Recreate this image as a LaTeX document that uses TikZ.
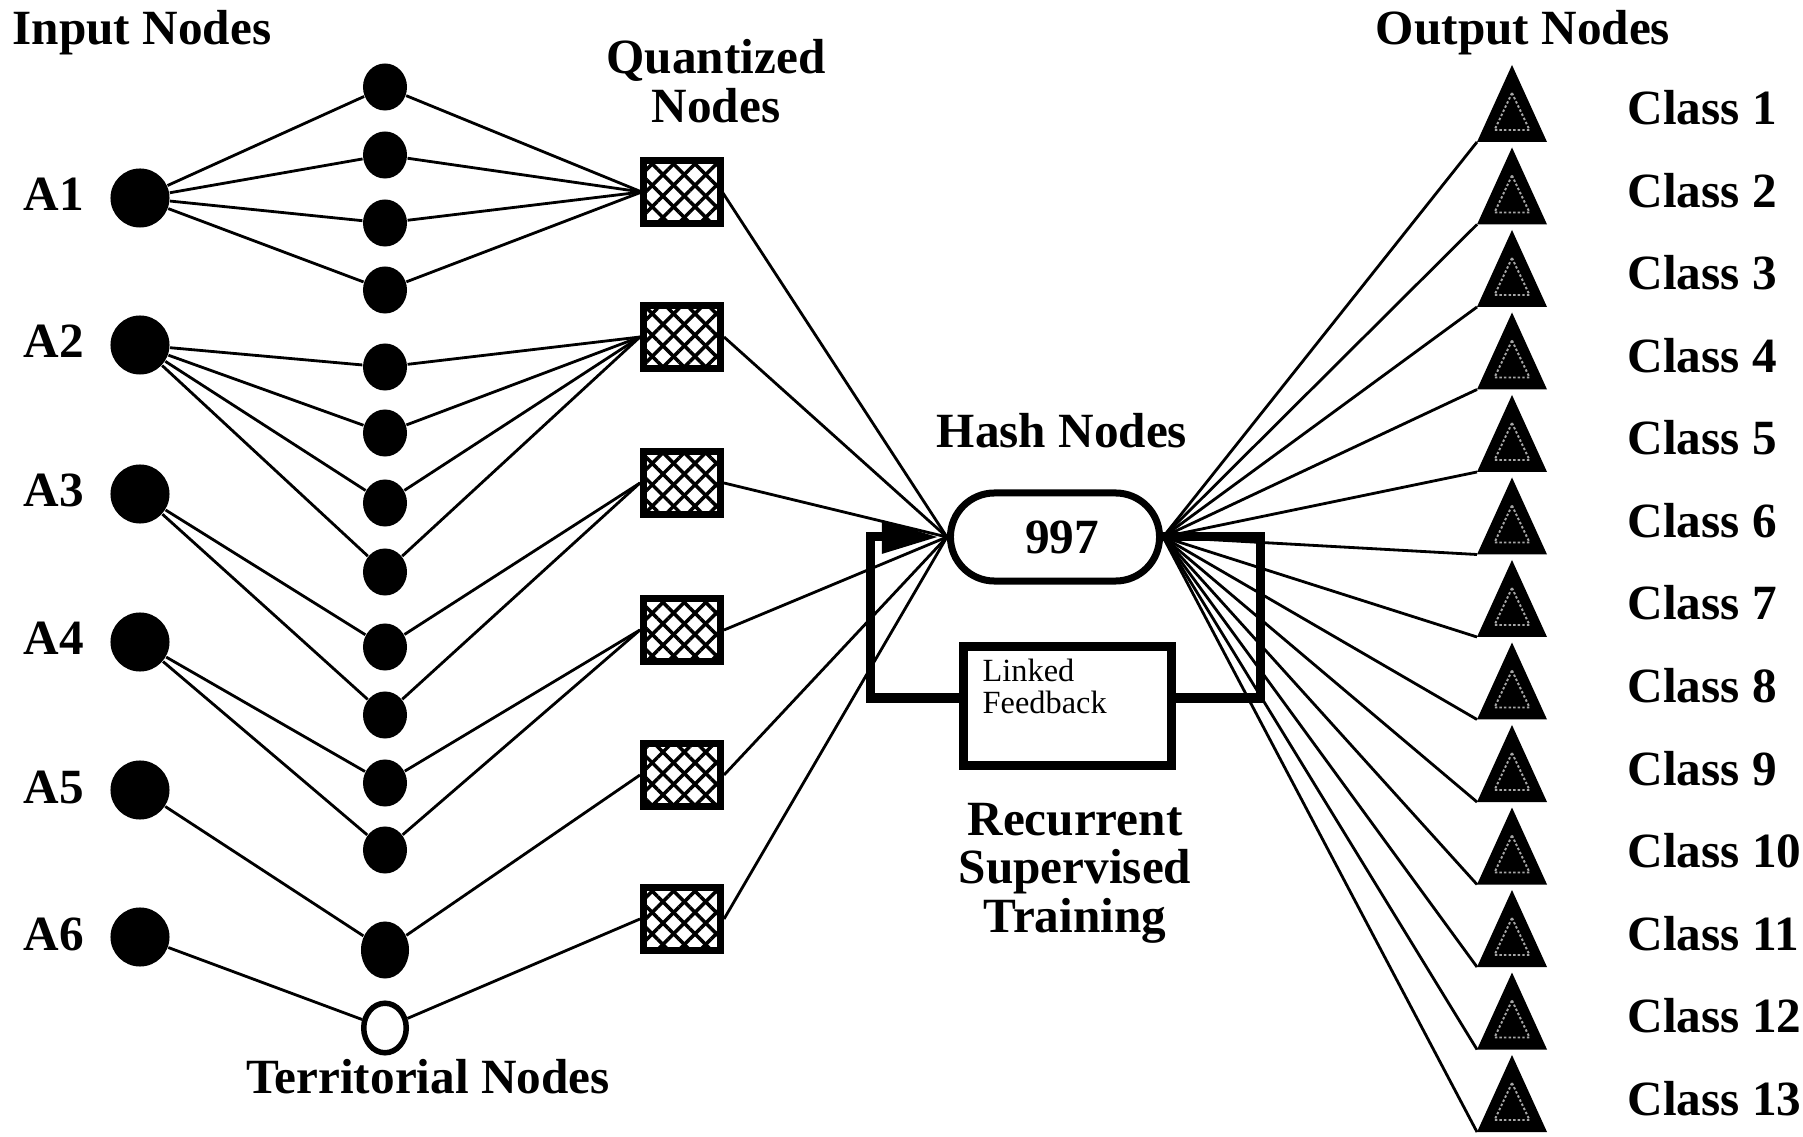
\documentclass[tikz,border=0pt]{standalone}
\usepackage{fontspec}
\setmainfont{Liberation Serif}
\usetikzlibrary{shapes.geometric,arrows.meta,patterns.meta}
\setlength{\tabcolsep}{0pt}
\begin{document}
\begin{tikzpicture}[x=0.01cm,y=-0.01cm,
  lbl/.style={font=\fontsize{14}{13.6}\selectfont\bfseries, inner sep=0pt},
  inp/.style={circle, fill=black, minimum size=0.59cm, inner sep=0pt},
  terr/.style={ellipse, fill=black, minimum width=0.44cm, minimum height=0.47cm, inner sep=0pt},
  bigterr/.style={ellipse, fill=black, minimum width=0.48cm, minimum height=0.57cm, inner sep=0pt},
  hollow/.style={ellipse, draw=black, fill=white, line width=0.055cm, minimum width=0.425cm, minimum height=0.495cm, inner sep=0pt},
  qbox/.style={rectangle, draw=black, line width=0.07cm, minimum width=0.77cm, minimum height=0.63cm, inner sep=0pt,
    preaction={fill=white},
    preaction={pattern={Lines[angle=45,distance=4.3pt,line width=1pt]}},
    pattern={Lines[angle=-45,distance=4.3pt,line width=1pt]}},
  hashbox/.style={rectangle, draw=black, fill=white, line width=0.07cm, rounded corners=0.44cm,
    minimum width=2.09cm, minimum height=0.88cm, inner sep=0pt, font=\fontsize{14}{14}\selectfont\bfseries},
  fbbox/.style={rectangle, draw=black, line width=0.09cm, minimum width=2.08cm, minimum height=1.19cm, inner sep=0pt},
  conn/.style={line width=0.8pt},
  fbk/.style={line width=0.09cm},
  triinner/.style={draw=white!65!black, line width=0.55pt, dash pattern=on 0.7pt off 0.6pt}
]
\useasboundingbox (0,0) rectangle (1803,1137);

% input nodes
\foreach \n/\y in {1/198,2/345,3/494,4/642,5/790,6/937} {
  \node[inp] (a\n) at (140,\y) {};
  \node[lbl, anchor=base] (la\n) at (54,\y+13) {A\n};
}

% territorial nodes
\foreach \n/\y in {1/87,2/155,3/223,4/290,5/367,6/433,7/503,8/572,9/647,10/715,11/783,12/850}
  \node[terr] (t\n) at (385,\y) {};
\node[bigterr] (t13) at (385,950) {};
\node[hollow] (t14) at (385,1028) {};

% quantized nodes
\foreach \n/\y in {1/192,2/337,3/483,4/630,5/775,6/919}
  \node[qbox] (q\n) at (682,\y) {};

% hash node and feedback box
\node[hashbox] (hash) at (1055,537) {\hspace{4pt}997};
\node[fbbox] (fb) at (1067.5,706) {};
\node[font=\fontsize{9.2}{8.8}\selectfont, anchor=base west, inner sep=0pt] (fbt) at (982,682)
  {\begin{tabular}[t]{@{}l@{}}Linked\\Feedback\end{tabular}};

% output nodes
\foreach \k in {1,...,13} {
  \pgfmathsetmacro\ya{65+82.5*(\k-1)}
  \coordinate (o\k) at (1477,\ya+77);
  \fill (o\k) -- (1512,\ya) -- (1547,\ya+77) -- cycle;
  \draw[triinner] (1512,\ya+28) -- (1529.5,\ya+65) -- (1494.5,\ya+65) -- cycle;
  \node[lbl, anchor=base west] (c\k) at (1627,\ya+60) {Class \k};
}

% connectors input -> territorial -> quantized
\foreach \a/\t in {1/1,1/2,1/3,1/4,2/5,2/6,2/7,2/8,3/9,3/10,4/11,4/12,5/13,6/14} {
  \draw[conn] (a\a) -- (t\t);
  \draw[conn] (t\t) -- (q\a.west);
}

% quantized -> hash
\foreach \q in {1,...,6}
  \draw[conn] (q\q.east) -- (hash.west);

% hash -> outputs
\foreach \k in {1,...,13}
  \draw[conn] (hash.east) -- (o\k);

% feedback loop
\coordinate (fTL) at (870,537);
\coordinate (fBL) at (870,698);
\coordinate (fTR) at (1260,537);
\coordinate (fBR) at (1260,698);
\draw[fbk] (hash.east) -- (fTR) -- (fBR) -- (fb.east |- fBR);
\draw[fbk, -{Triangle[length=0.57cm,width=0.31cm]}, shorten >=0.08cm] (fb.west |- fBL) -- (fBL) -- (fTL) -- (hash.west);

% titles
\node[lbl, anchor=base west] (tin) at (12,45) {Input Nodes};
\node[lbl, anchor=base] (tq) at (716,74) {\begin{tabular}[t]{@{}c@{}}Quantized\\Nodes\end{tabular}};
\node[lbl, anchor=base] (th) at (1062,448) {Hash Nodes};
\node[lbl, anchor=base] (tout) at (1523,45) {Output Nodes};
\node[lbl, anchor=base] (tterr) at (428,1093) {Territorial Nodes};
\node[lbl, anchor=base] (trec) at (1075,835) {\begin{tabular}[t]{@{}c@{}}Recurrent\\Supervised\\Training\end{tabular}};
\end{tikzpicture}
\end{document}
